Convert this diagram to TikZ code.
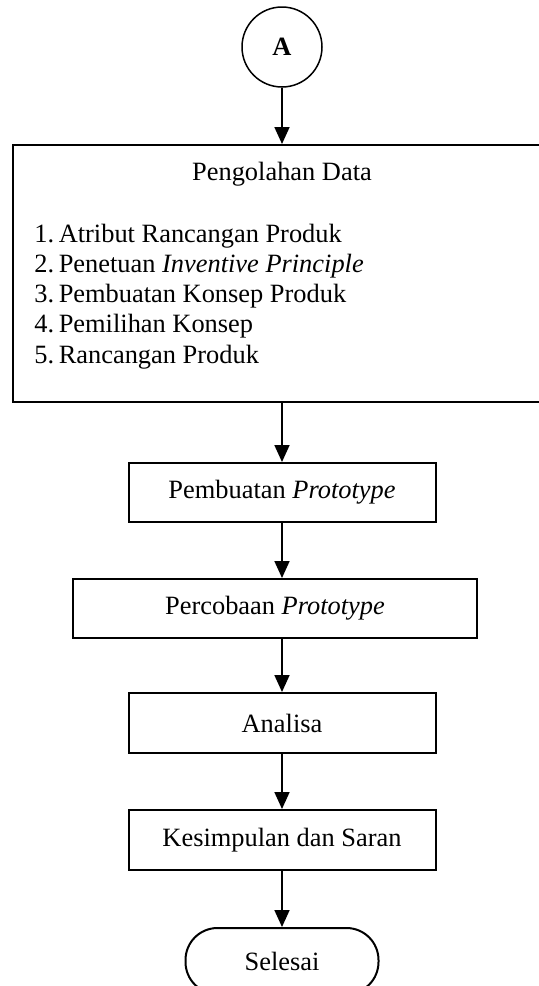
\documentclass[tikz,border=0pt]{standalone}
\usepackage{fontspec}
\setmainfont{Liberation Serif}
\usepackage{tikz}
\usetikzlibrary{arrows.meta}

\tikzset{
  huruf/.style={font=\fontsize{13.2}{15.8}\selectfont},
  kotak/.style={draw, rectangle, line width=1pt, minimum height=29.5pt, inner sep=0pt, huruf},
  teks/.style={anchor=base west, inner sep=0pt, huruf},
  panah/.style={line width=0.9pt, -{Triangle[width=7.5pt,length=8.5pt]}},
}

\begin{document}
\begin{tikzpicture}[x=0.5pt,y=-0.5pt]
      \useasboundingbox (0,0) rectangle (539,986);
      % Konektor A
      \node[draw, circle, line width=0.75pt, minimum size=40pt, inner sep=0pt, font=\fontsize{13.2}{15.8}\selectfont\bfseries] (A) at (282,47) {A};
      % Pengolahan Data
      \node[kotak, minimum width=269pt, minimum height=128.5pt] (olah) at (282,273.5) {};
      \node[anchor=base, inner sep=0pt, huruf] (olahjudul) at (282,180) {Pengolahan Data};
      \foreach \i/\isi in {1/Atribut Rancangan Produk, 2/Penetuan \textit{Inventive Principle}, 3/Pembuatan Konsep Produk, 4/Pemilihan Konsep, 5/Rancangan Produk}
      {
        \node[teks] (no\i) at (34,{242+30.3*(\i-1)}) {\i.};
        \node[teks] (isi\i) at (58.4,{242+30.3*(\i-1)}) {\isi};
      }
      % Prototype
      \node[kotak, minimum width=153.5pt] (buat) at (282,492.5) {Pembuatan \textit{Prototype}};
      \node[kotak, minimum width=202.3pt] (coba) at (275,608.5) {Percobaan \textit{Prototype}};
      % Analisa dan kesimpulan
      \node[kotak, minimum width=153.5pt, minimum height=30pt] (analisa) at (282,723) {Analisa};
      \node[kotak, minimum width=153.5pt, minimum height=30pt] (simpul) at (282,840) {Kesimpulan dan Saran};
      \node[kotak, rounded corners=16pt, minimum width=96.5pt, minimum height=33pt] (selesai) at (282,961) {Selesai};
      % Panah
      \draw[panah] (A) -- (olah);
      \draw[panah] (olah) -- (buat);
      \draw[panah] (buat) -- (buat |- coba.north);
      \draw[panah] (coba.south -| buat) -- (analisa);
      \draw[panah] (analisa) -- (simpul);
      \draw[panah] (simpul) -- (selesai);
    \end{tikzpicture}
\end{document}
